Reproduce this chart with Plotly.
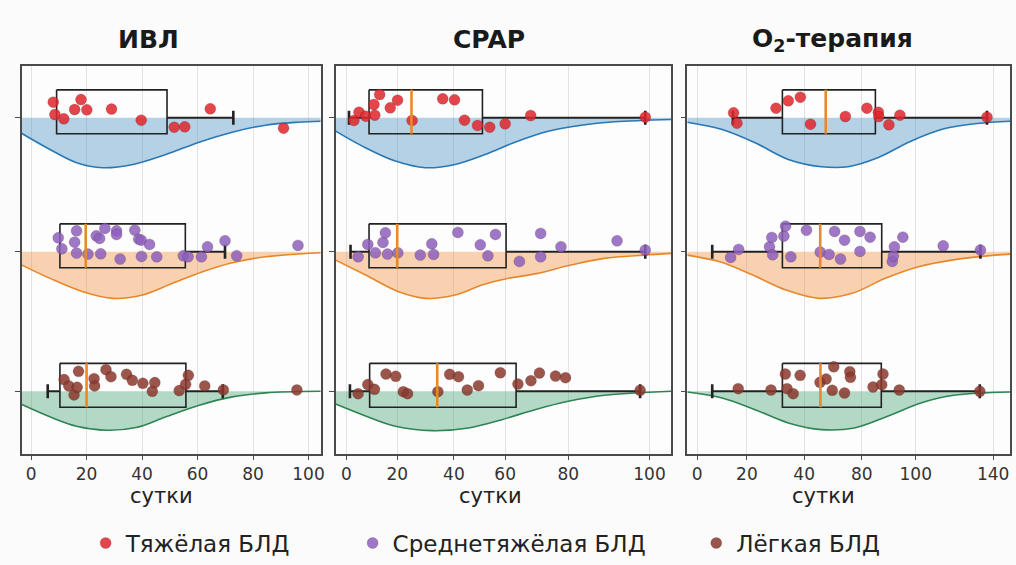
import plotly.graph_objects as go

# ---------------- data ----------------
GROUPS = ["Тяжёлая БЛД", "Среднетяжёлая БЛД", "Лёгкая БЛД"]
PANELS = ["ИВЛ", "CPAP", "O<sub>2</sub>-терапия"]
X_LABEL = "сутки"

IVL_TICKS = [0, 20, 40, 60, 80, 100]
IVL_TICKTEXT = ["0", "20", "40", "60", "80", "100"]
CPAP_TICKS = [0, 16.8, 35.5, 52.4, 73.2, 100]
CPAP_TICKTEXT = ["0", "20", "40", "60", "80", "100"]
O2_TICKS = [0, 23.5, 50.6, 77.9, 103.4, 140]
O2_TICKTEXT = ["0", "20", "40", "80", "100", "140"]

# individual patients (days) and their vertical jitter (px, + = below baseline)
IVL_SEVERE = [8.0, 18.0, 8.6, 11.8, 15.7, 20.1, 29.0, 39.7, 51.6, 55.4, 64.6, 91.0]
IVL_SEVERE_JIT = [-15.6, -18.3, -3.3, 1.0, -8.3, -8.0, -8.7, 2.4, 9.4, 9.0, -9.0, 10.4]
IVL_MODERATE = [9.8, 16.4, 15.7, 11.1, 16.4, 20.5, 23.5, 24.7, 26.6, 25.1, 30.8, 30.8, 32.1,
                37.4, 38.8, 39.7, 39.8, 42.7, 45.3, 54.9, 56.6, 61.4, 63.6, 69.9, 74.1, 96.2]
IVL_MODERATE_JIT = [-14, -21, -9.7, -3, 1.3, 2.3, -16, -13.4, -23.4, 2, -21, -17.4, 7.3,
                    -21.7, -12.7, -11.7, 4.6, -7.4, 5, 4, 5, 5, -5, -11, 4, -6.4]
IVL_MILD = [11.9, 13.6, 15.5, 16.6, 17.1, 22.7, 22.9, 27.0, 28.8, 34.4, 36.5, 40.3, 43.7,
            44.6, 53.4, 55.7, 56.7, 62.6, 69.3, 95.8]
IVL_MILD_JIT = [-11.7, -5.4, 3.6, -4, -20, -12.7, -5.4, -21.7, -14.7, -17, -11, -8, 0,
                -8.7, -0.7, -7, -16, -5.4, -1.4, -1.4]

CPAP_SEVERE = [2.5, 4.2, 6.4, 9.1, 9.4, 11.0, 14.5, 16.9, 21.7, 31.8, 35.7, 39.0, 43.3,
               47.3, 52.4, 60.8, 98.6]
CPAP_SEVERE_JIT = [2.7, -5.6, -1.6, -13.3, -2.6, -23.3, -10, -17.6, 2.7, -19, -18, 2.4, 7.7,
                   9.4, 6, -2.3, -0.6]
CPAP_MODERATE = [3.9, 7.1, 9.6, 12.1, 12.9, 13.6, 17.0, 24.4, 28.2, 28.8, 36.8, 44.2, 46.7,
                 49.2, 57.1, 64.1, 64.1, 70.8, 89.3, 98.6]
CPAP_MODERATE_JIT = [5, -7.4, 1, -9.4, -19, 2.3, 1, 3.3, -8, 2.6, -19.4, -7, 4,
                     -17.4, 9.6, -18.4, 5, -5, -11, -1.7]
CPAP_MILD = [3.9, 7.1, 9.3, 13.1, 16.3, 18.8, 20.2, 30.2, 34.1, 37.0, 39.9, 43.6, 50.8,
             56.6, 60.9, 63.7, 69.0, 72.3, 96.9]
CPAP_MILD_JIT = [2.4, -6.7, -2, -17.3, -15, 0.4, 2.4, 0.4, -17, -14.6, -1.3, -5.6, -18.6,
                 -7.3, -10.6, -18.3, -15.3, -13.6, -1]

O2_SEVERE = [17.2, 18.8, 37.3, 43.1, 48.8, 53.6, 70.1, 80.3, 85.7, 85.9, 90.7, 95.9, 137.1]
O2_SEVERE_JIT = [-5, 5.4, -9.6, -17, -20.6, 6.4, -1.3, -9.6, -5.6, -1.3, 7, -2.6, -0.6]
O2_MODERATE = [15.8, 19.6, 34.2, 35.3, 35.7, 41.0, 41.8, 44.3, 51.7, 58.2, 62.4, 65.0,
               67.8, 69.7, 77.0, 77.0, 81.8, 92.3, 92.8, 93.3, 97.3, 116.4, 134.0]
O2_MODERATE_JIT = [5.6, -2.4, -5, -14.4, 3, -15.7, -25.7, 5, -21.7, 0.3, 2.6, -20.4,
                   7.3, -11.7, -20.4, -0.4, -14.7, 9.6, 4.3, -5, -14.7, -6, -1.7]
O2_MILD = [19.4, 34.9, 41.7, 42.5, 45.4, 48.7, 58.1, 61.0, 63.9, 64.6, 69.7, 72.2, 72.5,
           83.2, 87.3, 87.9, 95.6, 133.7]
O2_MILD_JIT = [-2.6, -1.3, -17.3, -2.6, 2.4, -16, -9, -12.3, -1, -24.6, 1.7, -19.6, -14,
               -4.3, -6.6, -17.3, -1.3, 0]

# box-plot statistics per group (whisker low, Q1, median, Q3, whisker high)
IVL_WLO = [9.2, 10.4, 6.0]
IVL_Q1 = [9.2, 10.4, 10.4]
IVL_MED = [None, 19.7, 20.0]
IVL_Q3 = [49.0, 55.6, 55.8]
IVL_WHI = [72.9, 69.9, 69.1]

CPAP_WLO = [0.9, 1.4, 1.2]
CPAP_Q1 = [7.5, 7.5, 7.7]
CPAP_MED = [21.5, 16.8, 30.0]
CPAP_Q3 = [44.9, 52.7, 56.0]
CPAP_WHI = [98.6, 98.6, 96.9]

O2_WLO = [16.9, 7.1, 7.1]
O2_Q1 = [40.3, 40.3, 40.3]
O2_MED = [60.8, 58.2, 58.3]
O2_Q3 = [84.3, 87.3, 87.1]
O2_WHI = [137.1, 134.0, 133.7]

# density profiles (days, density depth read in px)
IVL_DENS_X = [[-3.3, 6.8, 16.4, 25.9, 36.7, 48.6, 60.6, 72.5, 84.5, 96.4, 104.4],
              [-3.3, 6.8, 18.7, 29.5, 40.2, 51.0, 61.8, 72.5, 84.5, 104.4],
              [-3.3, 6.8, 16.4, 27.1, 37.9, 48.6, 60.6, 72.5, 84.5, 104.4]]
IVL_DENS = [[15.7, 31.7, 45, 50, 46.7, 36.7, 24.4, 14.4, 7.4, 4.4, 3.4],
            [13.3, 26.6, 40, 46.6, 43.3, 31.6, 20, 11, 5, 1],
            [13.3, 25.6, 35, 39, 36.3, 25.6, 14, 5.6, 1.6, 0]]
CPAP_DENS_X = [[-3.5, 5.3, 16.2, 26.1, 35.9, 45.8, 55.6, 66.6, 77.5, 88.5, 107.2],
               [-3.5, 6.4, 17.3, 26.1, 35.9, 44.7, 52.8, 63.1, 74.0, 85.0, 98.1, 107.2],
               [-3.5, 5.3, 16.2, 28.3, 40.3, 51.3, 62.2, 73.2, 85.2, 107.2]]
CPAP_DENS = [[13.4, 28.4, 43.4, 50, 46.7, 36.7, 24.4, 13.4, 7.4, 4, 1.7],
             [8.3, 23.3, 40, 46.6, 43.3, 33.3, 27, 21.6, 13.3, 6.6, 3.3, 1.6],
             [12.7, 23.4, 35, 39.4, 36.7, 28.4, 18.4, 10, 4, 0]]
O2_DENS_X = [[-4.7, 11.8, 27.4, 43.1, 58.8, 71.3, 85.4, 101.1, 116.7, 132.4, 148.0],
             [-4.7, 10.7, 26.3, 42.0, 57.7, 73.3, 89.0, 104.7, 120.4, 136.0, 148.0],
             [-4.7, 11.8, 27.4, 43.1, 58.8, 74.4, 90.1, 105.8, 121.4, 148.0]]
O2_DENS = [[4.4, 11.7, 25, 41.7, 49, 49, 40, 23.4, 11, 5.7, 3.4],
           [3.3, 10, 23.3, 38.3, 46.6, 41.6, 26.6, 15, 8.3, 4.3, 2.3],
           [0.7, 6.7, 18.4, 31.7, 38.4, 36.7, 25, 11.7, 4, 0.7]]

# ---------------- assemble ----------------
PANEL_TABLE = [
    dict(points=[IVL_SEVERE, IVL_MODERATE, IVL_MILD],
         jitter=[IVL_SEVERE_JIT, IVL_MODERATE_JIT, IVL_MILD_JIT],
         wlo=IVL_WLO, q1=IVL_Q1, med=IVL_MED, q3=IVL_Q3, whi=IVL_WHI,
         dx=IVL_DENS_X, dd=IVL_DENS, ticks=IVL_TICKS, ticktext=IVL_TICKTEXT),
    dict(points=[CPAP_SEVERE, CPAP_MODERATE, CPAP_MILD],
         jitter=[CPAP_SEVERE_JIT, CPAP_MODERATE_JIT, CPAP_MILD_JIT],
         wlo=CPAP_WLO, q1=CPAP_Q1, med=CPAP_MED, q3=CPAP_Q3, whi=CPAP_WHI,
         dx=CPAP_DENS_X, dd=CPAP_DENS, ticks=CPAP_TICKS, ticktext=CPAP_TICKTEXT),
    dict(points=[O2_SEVERE, O2_MODERATE, O2_MILD],
         jitter=[O2_SEVERE_JIT, O2_MODERATE_JIT, O2_MILD_JIT],
         wlo=O2_WLO, q1=O2_Q1, med=O2_MED, q3=O2_Q3, whi=O2_WHI,
         dx=O2_DENS_X, dd=O2_DENS, ticks=O2_TICKS, ticktext=O2_TICKTEXT),
]

# ---------------- styling ----------------
W, H = 1016, 565
FONT = "DejaVu Sans"
PX_PER_ROW = 137.0
ROW_Y = [0, 0.98, 2]
X_RANGES = [[-3.3, 104.4], [-3.5, 107.2], [-4.7, 148.0]]
X_DOMAINS = [[22 / W, 322 / W], [337 / W, 674 / W], [690 / W, 1014 / W]]
Y_DOMAIN = [1 - 455 / H, 1 - 66 / H]
Y_RANGE = [2 + 63 / PX_PER_ROW, -52 / PX_PER_ROW]

POINT_COLORS = ["#e0262c", "#8e60bd", "#8a382d"]
DENS_LINE = ["#2878b5", "#e8862a", "#2f8454"]
DENS_FILL = ["rgba(31,119,180,0.32)", "rgba(240,140,50,0.38)", "rgba(40,150,95,0.35)"]
BOX_COLOR = "#222222"
MED_COLOR = "#e8892d"
BOX_TOP, BOX_BOT = -28, 16     # px relative to baseline
CAP = 7

fig = go.Figure()


def yv(row, px):
    return ROW_Y[row] + px / PX_PER_ROW


for p, pdata in enumerate(PANEL_TABLE):
    xa = "x" if p == 0 else f"x{p + 1}"
    ya = "y" if p == 0 else f"y{p + 1}"
    # densities (half violins below baseline)
    for g in range(3):
        dx, dd = pdata["dx"][g], pdata["dd"][g]
        fig.add_trace(go.Scatter(x=[dx[0], dx[-1]], y=[yv(g, 0), yv(g, 0)], mode="lines",
                                 line=dict(width=0, color=DENS_FILL[g]), hoverinfo="skip",
                                 showlegend=False, xaxis=xa, yaxis=ya))
        fig.add_trace(go.Scatter(x=dx, y=[yv(g, d) for d in dd], mode="lines",
                                 line=dict(width=1.6, color=DENS_LINE[g], shape="spline"),
                                 fill="tonexty", fillcolor=DENS_FILL[g], hoverinfo="skip",
                                 showlegend=False, xaxis=xa, yaxis=ya))
    # boxes, whiskers
    for g in range(3):
        q1, q3 = pdata["q1"][g], pdata["q3"][g]
        wlo, whi = pdata["wlo"][g], pdata["whi"][g]
        fig.add_trace(go.Scatter(x=[q1, q3, q3, q1, q1],
                                 y=[yv(g, BOX_TOP), yv(g, BOX_TOP), yv(g, BOX_BOT), yv(g, BOX_BOT), yv(g, BOX_TOP)],
                                 mode="lines", line=dict(color=BOX_COLOR, width=1.6),
                                 hoverinfo="skip", showlegend=False, xaxis=xa, yaxis=ya))
        for end, edge in ((wlo, q1), (whi, q3)):
            if abs(end - edge) < 1e-9:
                continue
            fig.add_trace(go.Scatter(x=[edge, end], y=[yv(g, 0), yv(g, 0)], mode="lines",
                                     line=dict(color=BOX_COLOR, width=2), hoverinfo="skip",
                                     showlegend=False, xaxis=xa, yaxis=ya))
            fig.add_trace(go.Scatter(x=[end, end], y=[yv(g, -CAP), yv(g, CAP)], mode="lines",
                                     line=dict(color=BOX_COLOR, width=2.6), hoverinfo="skip",
                                     showlegend=False, xaxis=xa, yaxis=ya))
    # points
    for g in range(3):
        pts, jit = pdata["points"][g], pdata["jitter"][g]
        fig.add_trace(go.Scatter(
            x=pts, y=[yv(g, j) for j in jit], mode="markers", name=GROUPS[g],
            marker=dict(size=11, color=POINT_COLORS[g], opacity=0.85,
                        line=dict(width=0.6, color="rgba(60,20,20,0.35)")),
            showlegend=(p == 0), legend=["legend", "legend2", "legend3"][g],
            xaxis=xa, yaxis=ya))
    # medians
    for g in range(3):
        med = pdata["med"][g]
        if med is None:
            continue
        fig.add_trace(go.Scatter(x=[med, med], y=[yv(g, BOX_TOP), yv(g, BOX_BOT)], mode="lines",
                                 line=dict(color=MED_COLOR, width=2.6), hoverinfo="skip",
                                 showlegend=False, xaxis=xa, yaxis=ya))

axis_common = dict(showline=True, mirror=True, linecolor="#4a4a4a", linewidth=1.5, zeroline=False)
layout = dict(
    width=W, height=H, margin=dict(l=0, r=0, t=0, b=0),
    paper_bgcolor="#fbfbfb", plot_bgcolor="#fdfdfd",
    font=dict(family=FONT, color="#222"),
)
for p, pdata in enumerate(PANEL_TABLE):
    xk = "xaxis" if p == 0 else f"xaxis{p + 1}"
    yk = "yaxis" if p == 0 else f"yaxis{p + 1}"
    layout[xk] = dict(domain=X_DOMAINS[p], range=X_RANGES[p], anchor="y" if p == 0 else f"y{p + 1}",
                      tickvals=pdata["ticks"], ticktext=pdata["ticktext"],
                      showgrid=True, gridcolor="#e3e3e3", gridwidth=1,
                      ticks="outside", ticklen=4, tickcolor="#4a4a4a",
                      tickfont=dict(size=17, color="#333", family=FONT),
                      **axis_common)
    layout[yk] = dict(domain=Y_DOMAIN, range=Y_RANGE, anchor="x" if p == 0 else f"x{p + 1}",
                      tickvals=ROW_Y, showticklabels=False, ticks="outside", ticklen=5,
                      tickcolor="#4a4a4a", showgrid=False, **axis_common)

title_x = [149 / W, 491 / W, 836 / W]
xlabel_x = [162 / W, 492 / W, 827 / W]
annotations = [
    dict(text=f"<b>{PANELS[p]}</b>", x=title_x[p], y=1 - 40 / H, xref="paper", yref="paper",
         xanchor="center", yanchor="middle", showarrow=False,
         font=dict(size=25, color="#1a1a1a", family=FONT))
    for p in range(3)
]
annotations += [
    dict(text=X_LABEL, x=xlabel_x[p], y=1 - 497 / H, xref="paper", yref="paper",
         xanchor="center", yanchor="middle", showarrow=False,
         font=dict(size=21, color="#222", family=FONT))
    for p in range(3)
]
layout["annotations"] = annotations
legend_x = [86 / W, 354 / W, 699 / W]
for i, key in enumerate(["legend", "legend2", "legend3"]):
    layout[key] = dict(x=legend_x[i], y=1 - 544 / H, xanchor="left", yanchor="middle",
                       orientation="h", bgcolor="rgba(0,0,0,0)",
                       font=dict(size=23, color="#222", family=FONT))
layout["showlegend"] = True
fig.update_layout(**layout)

fig.write_html("out.html")
